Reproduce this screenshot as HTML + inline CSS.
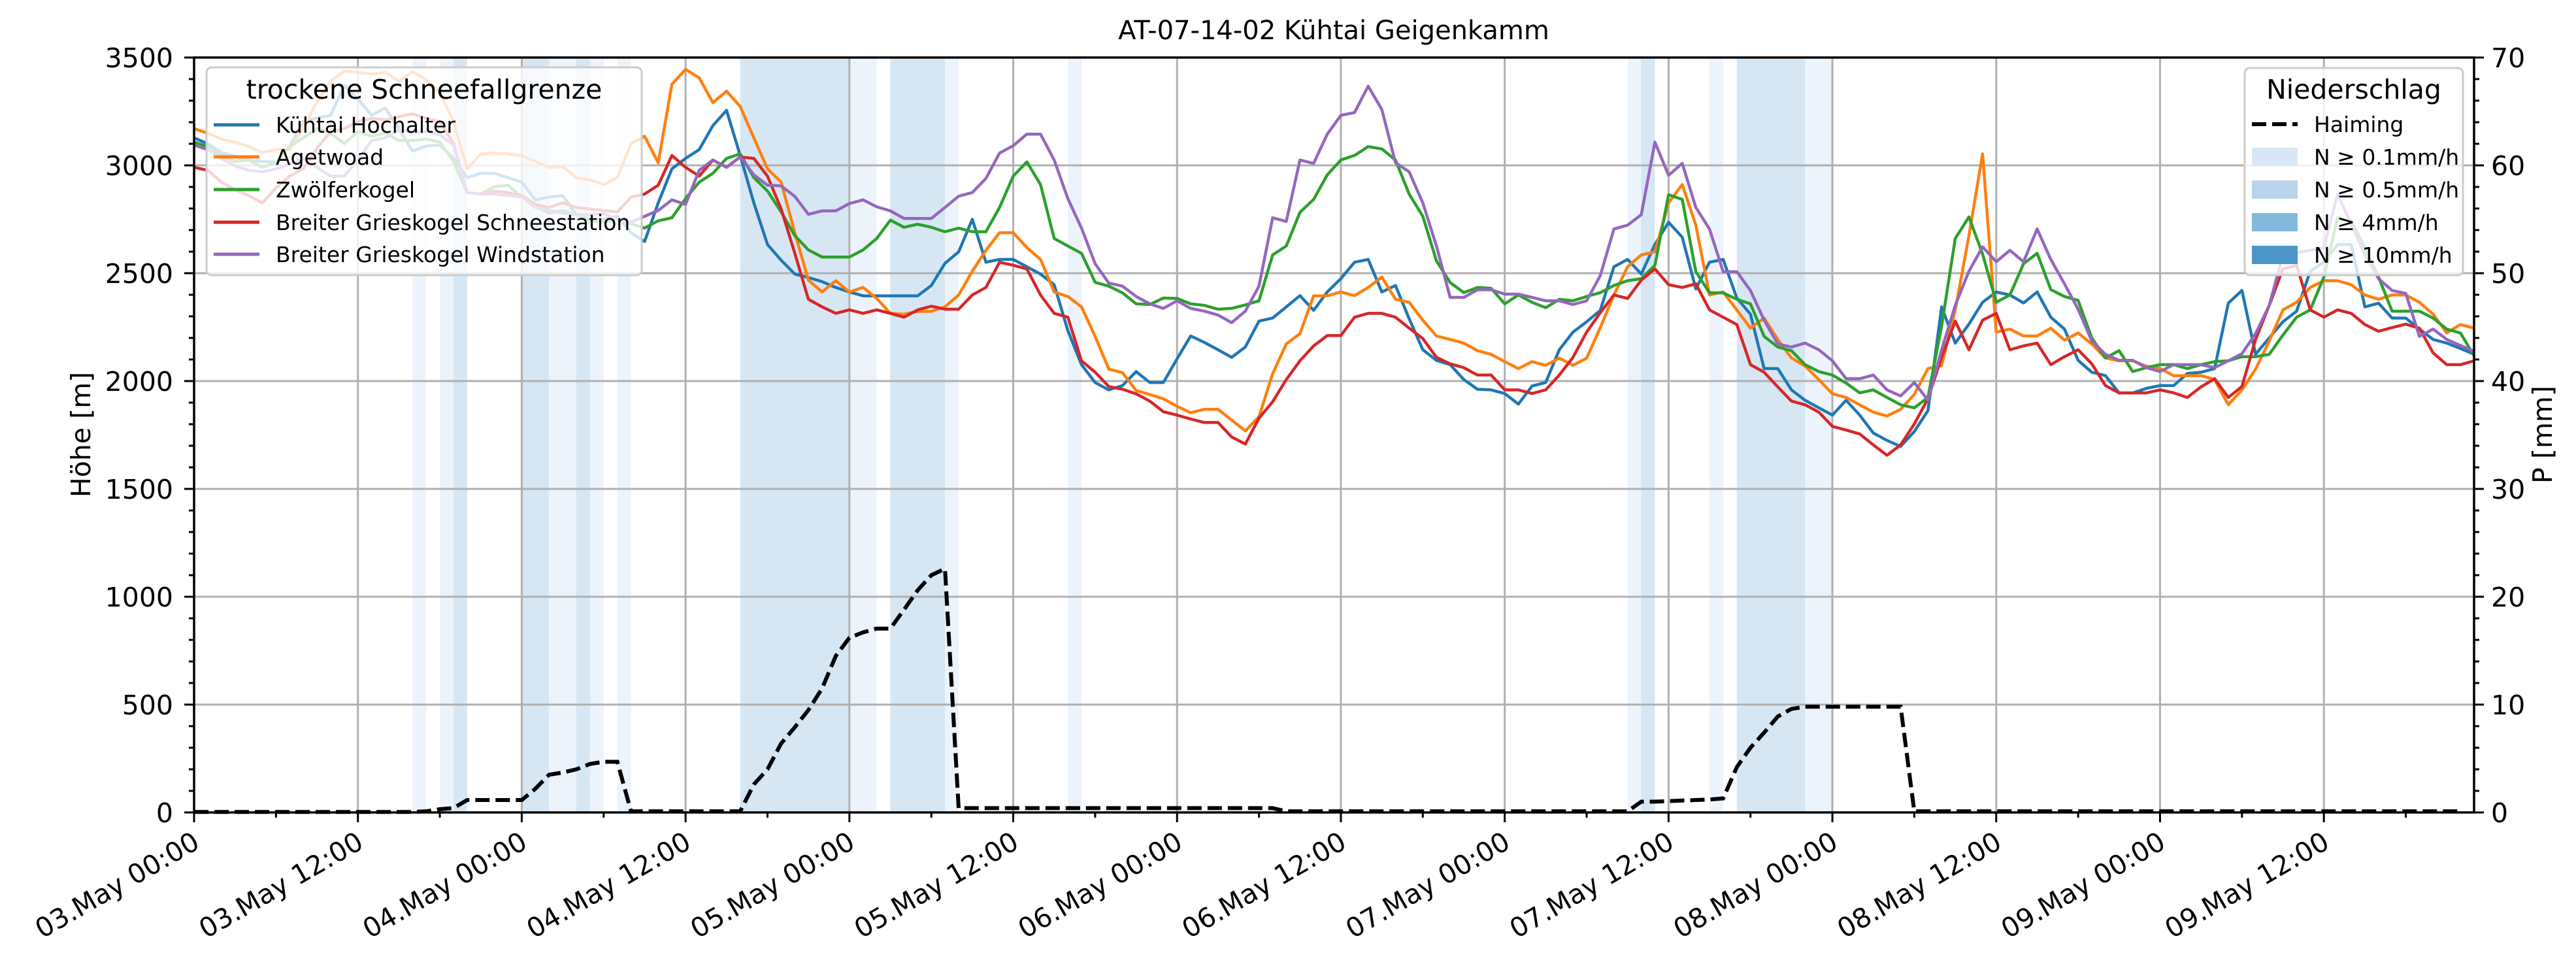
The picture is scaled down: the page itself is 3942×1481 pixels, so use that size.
<!DOCTYPE html>
<html><head><meta charset="utf-8">
<style>
html,body{margin:0;padding:0;background:#fff;}
svg{display:block;font-family:"DejaVu Sans","Liberation Sans",sans-serif;}
</style></head>
<body>
<svg id="chart" xmlns="http://www.w3.org/2000/svg" width="3942" height="1481" viewBox="0 0 3942 1481">
<rect x="0" y="0" width="3942" height="1481" fill="#fff"/>
<text x="2041" y="60" font-size="40" text-anchor="middle">AT-07-14-02 Kühtai Geigenkamm</text>
<g id="bands"></g>
<g id="grid"></g>
<g id="series"></g>
<g id="axes"></g>
<g id="legends"></g>
</svg>
<script>
// ---- data (hourly, starting 03.May 00:00) ----
const tickLabels = ["03.May 00:00","03.May 12:00","04.May 00:00","04.May 12:00","05.May 00:00","05.May 12:00","06.May 00:00","06.May 12:00","07.May 00:00","07.May 12:00","08.May 00:00","08.May 12:00","09.May 00:00","09.May 12:00"];
const yTicks = [0,500,1000,1500,2000,2500,3000,3500];
const pTicks = [0,10,20,30,40,50,60,70];
const seriesNames = ["Kühtai Hochalter","Agetwoad","Zwölferkogel","Breiter Grieskogel Schneestation","Breiter Grieskogel Windstation"];
const kuehtai = [3128,3100,3060,3040,3025,3018,3015,3087,3204,3220,3232,3370,3307,3232,3266,3170,3066,3090,3094,3032,2943,2963,2963,2943,2922,2840,2853,2860,2771,2750,2750,2764,2688,2647,2826,2984,3032,3073,3184,3255,3046,2826,2633,2560,2496,2480,2461,2434,2413,2395,2395,2395,2395,2395,2443,2546,2599,2750,2551,2564,2564,2530,2496,2447,2234,2076,1993,1959,1979,2044,1993,1993,2103,2209,2179,2145,2110,2158,2278,2292,2344,2396,2328,2413,2475,2551,2564,2413,2443,2289,2145,2096,2076,2007,1962,1959,1942,1893,1977,1993,2145,2227,2275,2328,2530,2564,2496,2633,2736,2667,2427,2551,2564,2385,2310,2058,2058,1959,1911,1876,1842,1911,1842,1759,1725,1697,1766,1863,2344,2176,2264,2365,2413,2399,2362,2413,2296,2241,2096,2041,2025,1945,1945,1966,1979,1979,2035,2041,2058,2361,2420,2124,2200,2275,2324,2509,2551,2633,2633,2344,2361,2292,2292,2241,2193,2176,2151,2124];
const agetwoad = [3170,3149,3122,3108,3087,3060,3073,3073,3170,3294,3390,3438,3431,3424,3431,3390,3434,3397,3335,3204,2984,3053,3057,3053,3046,3018,2991,2994,2943,2933,2911,2943,3101,3135,3012,3376,3445,3406,3291,3344,3273,3128,2984,2922,2688,2468,2413,2465,2413,2434,2383,2314,2310,2323,2323,2344,2399,2509,2606,2688,2688,2619,2564,2413,2392,2344,2207,2055,2039,1956,1938,1918,1883,1853,1869,1869,1819,1769,1835,2034,2172,2220,2395,2395,2413,2396,2434,2482,2379,2365,2282,2209,2193,2176,2141,2124,2090,2058,2090,2073,2106,2073,2106,2248,2399,2530,2585,2599,2826,2911,2723,2399,2413,2330,2245,2292,2193,2107,2069,2007,1941,1924,1890,1856,1838,1869,1938,2058,2072,2330,2674,3053,2227,2241,2209,2209,2245,2190,2223,2172,2107,2094,2094,2069,2058,2025,2025,2025,2007,1890,1959,2055,2186,2330,2365,2434,2465,2465,2447,2399,2379,2399,2399,2365,2310,2223,2262,2245];
const zwoelfer = [3108,3087,3046,3018,3025,2991,3012,3087,3128,3170,3149,3101,3156,3135,3149,3115,3115,3122,3108,3018,2874,2867,2901,2908,2853,2812,2778,2791,2771,2743,2736,2750,2729,2709,2743,2757,2846,2922,2963,3032,3053,2943,2881,2784,2674,2608,2575,2575,2575,2608,2661,2746,2713,2727,2713,2692,2709,2692,2692,2805,2950,3016,2911,2661,2626,2592,2458,2440,2409,2358,2355,2385,2383,2358,2351,2333,2337,2353,2372,2585,2626,2782,2842,2956,3025,3046,3087,3076,3025,2867,2764,2557,2457,2410,2434,2430,2358,2399,2365,2340,2379,2372,2392,2410,2443,2465,2475,2537,2864,2842,2507,2409,2409,2379,2358,2207,2158,2141,2076,2044,2028,1991,1945,1959,1924,1890,1876,1924,2255,2661,2761,2589,2365,2399,2544,2592,2424,2392,2374,2200,2107,2141,2044,2062,2076,2076,2058,2076,2090,2094,2113,2113,2124,2213,2296,2330,2482,2757,2743,2619,2482,2324,2324,2324,2292,2241,2223,2117];
const schneestation = [2991,2977,2922,2888,2860,2826,2895,2950,2984,3080,3156,3170,3204,3218,3211,3225,3239,3218,3204,3101,2874,2867,2881,2874,2860,2819,2805,2826,2805,2798,2791,2784,2853,2867,2908,3046,2991,2950,3025,2991,3039,3032,2950,2798,2592,2379,2344,2314,2330,2314,2330,2314,2296,2330,2347,2333,2333,2399,2434,2551,2537,2520,2399,2314,2296,2094,2041,1975,1962,1941,1907,1858,1842,1824,1808,1808,1741,1708,1828,1904,2007,2094,2163,2211,2211,2296,2314,2314,2296,2245,2197,2110,2080,2062,2028,2028,1959,1959,1942,1959,2028,2110,2227,2317,2399,2383,2468,2520,2447,2434,2451,2330,2296,2262,2076,2041,1973,1907,1890,1856,1790,1773,1755,1704,1656,1704,1801,1918,2110,2278,2145,2282,2314,2145,2163,2176,2076,2113,2145,2080,1979,1945,1945,1945,1959,1945,1924,1973,2011,1924,1975,2193,2351,2520,2537,2330,2296,2330,2314,2262,2231,2248,2264,2245,2131,2076,2076,2094];
const windstation = [3094,3073,3032,2998,2977,2970,2984,3005,3032,2991,2950,2950,3025,3115,3128,3163,3156,3156,3142,3094,2874,2867,2867,2860,2853,2805,2791,2778,2771,2771,2778,2750,2736,2764,2791,2840,2819,2977,3025,2991,3039,2956,2908,2905,2856,2773,2789,2789,2823,2840,2808,2789,2754,2754,2754,2805,2857,2874,2939,3057,3091,3145,3145,3025,2846,2709,2544,2454,2440,2392,2358,2337,2372,2337,2324,2306,2271,2324,2440,2757,2740,3025,3009,3145,3232,3245,3367,3259,3012,2970,2826,2626,2388,2388,2423,2423,2403,2403,2388,2372,2372,2355,2372,2489,2705,2723,2771,3108,2954,3009,2805,2705,2507,2507,2420,2282,2172,2158,2176,2145,2094,2011,2011,2028,1959,1931,1993,1911,2145,2351,2509,2622,2553,2606,2553,2705,2564,2451,2333,2186,2124,2096,2096,2062,2044,2076,2076,2076,2062,2094,2127,2220,2351,2585,2595,2606,2619,2867,2729,2585,2475,2420,2406,2207,2241,2193,2165,2138];
const haiming = [0.05,0.05,0.05,0.05,0.05,0.05,0.05,0.05,0.05,0.05,0.05,0.05,0.05,0.05,0.05,0.05,0.05,0.1,0.3,0.4,1.15,1.15,1.15,1.15,1.15,2.2,3.5,3.7,4.0,4.5,4.7,4.7,0.1,0.1,0.1,0.1,0.1,0.1,0.1,0.1,0.1,2.6,4.0,6.4,7.9,9.5,11.5,14.5,16.2,16.7,17.05,17.05,18.8,20.6,22.0,22.6,0.4,0.4,0.4,0.4,0.4,0.4,0.4,0.4,0.4,0.4,0.4,0.4,0.4,0.4,0.4,0.4,0.4,0.4,0.4,0.4,0.4,0.4,0.4,0.4,0.1,0.1,0.1,0.1,0.1,0.1,0.1,0.1,0.1,0.1,0.1,0.1,0.1,0.1,0.1,0.1,0.1,0.1,0.1,0.1,0.1,0.1,0.1,0.1,0.1,0.1,1.0,1.0,1.05,1.1,1.15,1.2,1.3,4.2,6.0,7.4,8.9,9.6,9.8,9.8,9.8,9.8,9.8,9.8,9.8,9.8,0.1,0.1,0.1,0.1,0.1,0.1,0.1,0.1,0.1,0.1,0.1,0.1,0.1,0.1,0.1,0.1,0.1,0.1,0.1,0.1,0.1,0.1,0.1,0.1,0.1,0.1,0.1,0.1,0.1,0.1,0.1,0.1,0.1,0.1,0.1,0.1,0.1,0.1,0.1,0.1,0.1];
const precipStart = [16,18,19,24,26,28,29,31,40,48,51,55,64,105,106,111,113,118];
const precipEnd   = [17,19,20,26,28,29,30,32,48,50,55,56,65,106,107,112,118,120];
const precipLevel = [1,1,2,2,1,2,1,1,2,1,2,1,1,1,2,1,2,1];

// ---- axes ----
const L=297,R=3786,T=88,B=1243,HMAX=167;
const NS="http://www.w3.org/2000/svg";
function xS(h){return L+h*(R-L)/HMAX;}
function yS(v){return B-v/3500*(B-T);}
function pS(p){return B-p/70*(B-T);}
function mk(tag,attrs,parent){const e=document.createElementNS(NS,tag);for(const k in attrs)e.setAttribute(k,attrs[k]);parent.appendChild(e);return e;}
const gB=document.getElementById('bands'),gG=document.getElementById('grid'),gS=document.getElementById('series'),gA=document.getElementById('axes'),gL=document.getElementById('legends');
const bandColors={1:"#edf3fa",2:"#d6e6f3"};

for(let i=0;i<precipStart.length;i++){
  const r=mk('rect',{x:xS(precipStart[i]),y:T,width:xS(precipEnd[i])-xS(precipStart[i]),height:B-T,fill:bandColors[precipLevel[i]]},gB);
  
  
}
tickLabels.forEach((t,i)=>{
  const l=mk('line',{x1:xS(i*12),x2:xS(i*12),y1:T,y2:B,stroke:"#b0b0b0","stroke-width":3},gG);
  
  
});
yTicks.forEach(v=>{
  const l=mk('line',{x1:L,x2:R,y1:yS(v),y2:yS(v),stroke:"#b0b0b0","stroke-width":3},gG);
  
  
});
const allSeries=[kuehtai,agetwoad,zwoelfer,schneestation,windstation];
const colors=["#1f77b4","#ff7f0e","#2ca02c","#d62728","#9467bd"];
const keys=["kuehtai-hochalter-line","agetwoad-line","zwoelferkogel-line","schneestation-line","windstation-line"];
allSeries.forEach((s,i)=>{
  const pts=s.map((v,h)=>xS(h).toFixed(1)+","+yS(v).toFixed(1)).join(" ");
  const p=mk('polyline',{points:pts,fill:"none",stroke:colors[i],"stroke-width":4.5,"stroke-linejoin":"round"},gS);
  
  
});
{
  const pts=haiming.map((v,h)=>xS(h).toFixed(1)+","+pS(v).toFixed(1)).join(" ");
  const p=mk('polyline',{points:pts,fill:"none",stroke:"#000","stroke-width":6,"stroke-dasharray":"22 9"},gS);
  
  
}
{
  const f=mk('rect',{x:L,y:T,width:R-L,height:B-T,fill:"none",stroke:"#000","stroke-width":3.5},gA);
  
  
}
for(let v=0;v<=3500;v+=100){
  const major=v%500===0;
  const t=mk('line',{x1:L-(major?15:8),x2:L,y1:yS(v),y2:yS(v),stroke:"#000","stroke-width":3},gA);
  
  
}
yTicks.forEach(v=>{
  const t=mk('text',{x:265,y:yS(v)+15,"font-size":41,"text-anchor":"end"},gA);
  t.textContent=v;
  
  
});
for(let p=0;p<=70;p+=2){
  const major=p%10===0;
  const t=mk('line',{x1:R,x2:R+(major?15:8),y1:pS(p),y2:pS(p),stroke:"#000","stroke-width":3},gA);
  
  
}
pTicks.forEach(p=>{
  const t=mk('text',{x:3812,y:pS(p)+15,"font-size":41,"text-anchor":"start"},gA);
  t.textContent=p;
  
  
});
for(let h=0;h<=HMAX;h+=6){
  const major=h%12===0;
  const t=mk('line',{x1:xS(h),x2:xS(h),y1:B,y2:B+(major?15:8),stroke:"#000","stroke-width":3},gA);
  
  
}
tickLabels.forEach((s,i)=>{
  const x=xS(i*12)-4,y=1270;
  const t=mk('text',{x:x,y:y+30,"font-size":41,"text-anchor":"end",transform:`rotate(-30 ${x} ${y})`},gA);
  t.textContent=s;
  
  
});
{
  const t=mk('text',{x:0,y:0,"font-size":41,"text-anchor":"middle",transform:"translate(138 665) rotate(-90)"},gA);
  t.textContent="Höhe [m]";
  
  
  const t2=mk('text',{x:0,y:0,"font-size":41,"text-anchor":"middle",transform:"translate(3905 665) rotate(-90)"},gA);
  t2.textContent="P [mm]";
  
  
}
{
  const g=mk('g',{},gL);
  
  
  mk('rect',{x:316,y:103,width:666,height:318,rx:8,fill:"#fff","fill-opacity":0.8,stroke:"#cccccc","stroke-width":3},g);
  const tt=mk('text',{x:649,y:151,"font-size":41,"text-anchor":"middle"},g);
  tt.textContent="trockene Schneefallgrenze";
  
  
  const ys=[191,240,290,340,389];
  seriesNames.forEach((n,i)=>{
    const l=mk('line',{x1:327,x2:397,y1:ys[i],y2:ys[i],stroke:colors[i],"stroke-width":5},g);
    
    
    const t=mk('text',{x:422,y:ys[i]+12,"font-size":33},g);
    t.textContent=n;
    
    
  });
}
{
  const g=mk('g',{},gL);
  
  
  mk('rect',{x:3435,y:104,width:334,height:317,rx:8,fill:"#fff","fill-opacity":0.8,stroke:"#cccccc","stroke-width":3},g);
  const tt=mk('text',{x:3602,y:151,"font-size":41,"text-anchor":"middle"},g);
  tt.textContent="Niederschlag";
  
  
  const l=mk('line',{x1:3446,x2:3516,y1:190,y2:190,stroke:"#000","stroke-width":6,"stroke-dasharray":"22 9"},g);
  
  
  const t0=mk('text',{x:3541,y:202,"font-size":33},g);
  t0.textContent="Haiming";
  
  
  const labels=["N ≥ 0.1mm/h","N ≥ 0.5mm/h","N ≥ 4mm/h","N ≥ 10mm/h"];
  const fills=["#d8e7f5","#b9d4ea","#82b9dc","#4a96c9"];
  const ys=[240,290,340,390];
  labels.forEach((s,i)=>{
    const r=mk('rect',{x:3446,y:ys[i]-14,width:70,height:28,fill:fills[i]},g);
    
    
    const t=mk('text',{x:3541,y:ys[i]+12,"font-size":33},g);
    t.textContent=s;
    
    
  });
}
</script>
</body></html>
